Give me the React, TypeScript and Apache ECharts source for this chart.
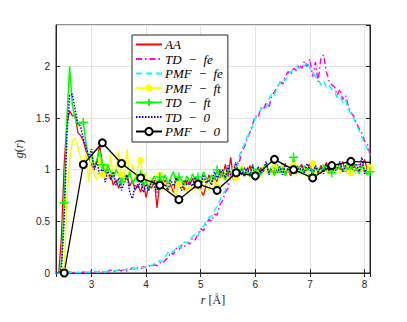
import React, { useEffect, useRef } from "react";
import * as echarts from "echarts";

// r grid of the sampled g(r) curves (Å)
const R_START = 2.35;
const R_STEP = 0.05;
const R_COUNT = 116;

const AA = [
  0, 0, 0.35, 1.05, 1.45, 1.57, 1.52, 1.53, 1.36, 1.33,
  1.28, 1.18, 1.12, 1.05, 1.0, 1.08, 1.24, 1.05, 1.0, 0.92,
  0.95, 0.85, 0.9, 0.82, 0.92, 0.88, 0.95, 0.84, 0.9, 0.8,
  0.86, 0.78, 0.88, 0.73, 0.85, 0.82, 0.9, 0.63, 0.88, 0.82,
  0.9, 0.8, 0.86, 0.78, 0.92, 0.84, 0.88, 0.8, 0.9, 0.85,
  0.92, 0.82, 0.88, 0.8, 0.75, 0.85, 0.95, 0.88, 0.93, 0.88,
  1.0, 0.92, 1.05, 0.93, 1.12, 0.9, 0.97, 1.0, 0.95, 1.02,
  0.96, 1.04, 0.95, 1.0, 0.93, 1.02, 0.98, 1.05, 0.97, 1.01,
  0.95, 1.03, 0.98, 1.06, 0.97, 1.0, 0.94, 1.04, 0.99, 1.02,
  1.05, 0.97, 1.0, 1.06, 0.98, 1.02, 0.96, 1.04, 1.0, 1.07,
  0.98, 1.03, 0.99, 1.05, 1.0, 1.08, 0.98, 1.04, 1.0, 1.06,
  0.99, 1.05, 1.02, 1.1, 1.0, 1.05,
];

const TD_FE = [
  0, 0, 0, 0.01, 0.0, 0.01, 0.0, 0.01, 0.0, 0.0,
  0.01, 0.0, 0.01, 0.02, 0.01, 0.0, 0.02, 0.01, 0.02, 0.01,
  0.03, 0.01, 0.02, 0.03, 0.02, 0.04, 0.02, 0.03, 0.05, 0.03,
  0.05, 0.04, 0.06, 0.05, 0.07, 0.06, 0.08, 0.07, 0.1, 0.09,
  0.12, 0.15, 0.2, 0.18, 0.24, 0.22, 0.27, 0.25, 0.3, 0.28,
  0.34, 0.32, 0.38, 0.43, 0.41, 0.47, 0.52, 0.5, 0.57, 0.56,
  0.66, 0.7, 0.78, 0.82, 0.95, 1.0, 1.08, 1.05, 1.18, 1.22,
  1.3, 1.36, 1.44, 1.52, 1.5, 1.6, 1.58, 1.65, 1.6, 1.72,
  1.75, 1.8, 1.85, 1.83, 1.9, 1.95, 1.92, 1.98, 1.96, 2.02,
  1.98, 2.05, 2.0, 2.07, 1.9, 2.04, 1.85, 2.08, 2.11, 1.95,
  1.86, 1.82, 1.8, 1.72, 1.78, 1.68, 1.72, 1.62, 1.55, 1.52,
  1.45, 1.4, 1.35, 1.28, 1.25, 1.15,
];

const PMF_FE = [
  0, 0, 0, 0.0, 0.01, 0.0, 0.01, 0.0, 0.01, 0.0,
  0.0, 0.01, 0.01, 0.0, 0.02, 0.01, 0.01, 0.02, 0.01, 0.02,
  0.02, 0.02, 0.03, 0.02, 0.03, 0.03, 0.04, 0.03, 0.04, 0.05,
  0.04, 0.06, 0.05, 0.06, 0.08, 0.07, 0.09, 0.1, 0.12, 0.11,
  0.15, 0.2, 0.22, 0.2, 0.25, 0.26, 0.24, 0.3, 0.29, 0.33,
  0.35, 0.38, 0.36, 0.42, 0.45, 0.5, 0.54, 0.55, 0.6, 0.65,
  0.7, 0.76, 0.8, 0.9, 0.96, 1.02, 1.05, 1.12, 1.2, 1.24,
  1.32, 1.35, 1.42, 1.5, 1.55, 1.58, 1.62, 1.6, 1.68, 1.74,
  1.72, 1.8, 1.84, 1.88, 1.86, 1.92, 1.95, 1.97, 2.0, 1.98,
  2.02, 2.0, 2.04, 1.98, 1.95, 1.9, 1.88, 1.82, 1.86, 1.8,
  1.82, 1.78, 1.75, 1.7, 1.72, 1.65, 1.68, 1.58, 1.55, 1.5,
  1.44, 1.38, 1.32, 1.26, 1.2, 1.14,
];

const PMF_FT = [
  0, 0, 0, 0.02, 0.7, 1.1, 1.28, 1.31, 1.22, 1.12,
  1.05, 1.15, 0.88, 1.2, 0.95, 0.9, 1.15, 0.95, 1.05, 0.92,
  1.15, 0.9, 1.0, 1.18, 0.95, 0.88, 1.2, 0.92, 1.05, 0.9,
  1.02, 1.09, 0.88, 0.96, 0.85, 0.93, 0.82, 0.9, 0.95, 0.8,
  0.88, 0.78, 0.92, 0.82, 0.75, 0.86, 0.8, 0.9, 0.78, 0.85,
  0.8, 0.9, 0.84, 0.78, 0.92, 0.86, 0.8, 0.95, 0.88, 0.84,
  0.95, 0.9, 1.0, 0.88, 0.96, 1.02, 0.92, 0.98, 1.04, 0.95,
  0.99, 0.93, 1.03, 0.96, 1.0, 0.92, 1.05, 0.97, 1.01, 0.95,
  1.02, 0.96, 1.0, 1.05, 0.94, 1.0, 0.97, 1.04, 0.95, 1.01,
  0.96, 1.03, 0.92, 1.0, 1.06, 0.95, 1.02, 0.97, 1.04, 1.0,
  0.95, 1.03, 0.98, 1.06, 0.96, 1.01, 0.99, 1.05, 0.97, 1.02,
  1.0, 1.04, 0.98, 1.03, 0.97, 1.02,
];

const TD_FT = [
  0, 0, 0.1, 0.68, 1.5, 2.0, 1.62, 1.5, 1.43, 1.45,
  1.46, 1.25, 1.1, 1.15, 1.02, 1.1, 1.19, 1.05, 0.95, 1.05,
  0.98, 0.92, 1.0, 0.95, 0.88, 0.96, 0.9, 0.98, 0.86, 0.92,
  0.88, 0.95, 0.84, 0.9, 0.8, 0.88, 0.94, 0.86, 0.93, 0.88,
  0.95, 0.86, 0.92, 0.98, 0.88, 0.93, 0.9, 0.85, 0.94, 0.88,
  0.96, 0.9, 0.93, 0.86, 0.98, 0.92, 0.88, 0.95, 0.9, 1.0,
  0.92, 0.98, 0.9, 1.02, 0.95, 0.92, 1.0, 0.94, 1.02, 0.96,
  1.0, 0.93, 1.04, 0.97, 1.02, 0.95, 1.0, 1.06, 0.97, 1.03,
  0.98, 1.05, 0.97, 1.02, 0.94, 1.01, 1.0, 1.12, 0.96, 1.03,
  0.97, 1.04, 0.99, 1.02, 0.95, 1.03, 1.0, 0.96, 1.05, 0.99,
  1.03, 0.97, 1.02, 1.0, 1.06, 0.98, 1.03, 1.0, 1.05, 0.97,
  1.02, 0.96, 1.04, 1.0, 0.95, 0.98,
];

const TD_0 = [
  0, 0, 0.05, 0.5, 1.35, 1.72, 1.73, 1.58, 1.45, 1.42,
  1.3, 1.22, 1.12, 1.2, 1.0, 1.08, 0.95, 1.02, 0.88, 1.0,
  0.9, 0.98, 0.85, 0.92, 0.8, 0.88, 0.95, 0.78, 0.72, 0.85,
  0.82, 0.9, 0.78, 0.86, 0.8, 0.9, 0.84, 0.78, 0.88, 0.82,
  0.86, 0.8, 0.9, 0.84, 0.92, 0.86, 0.8, 0.9, 0.85, 0.88,
  0.84, 0.93, 0.88, 0.82, 0.95, 0.87, 0.9, 0.85, 0.98, 0.92,
  0.96, 1.0, 0.92, 1.04, 0.95, 0.98, 1.06, 0.94, 1.0, 0.93,
  1.02, 0.95, 1.05, 0.9, 1.03, 0.97, 1.0, 1.08, 0.95, 1.02,
  1.07, 0.97, 1.03, 0.95, 1.06, 0.99, 1.02, 0.96, 1.05, 0.98,
  1.03, 0.97, 1.06, 1.0, 0.95, 1.04, 0.98, 1.02, 0.96, 1.05,
  0.99, 1.04, 0.97, 1.02, 1.08, 0.98, 1.03, 1.1, 0.97, 1.02,
  1.06, 0.98, 1.12, 0.96, 1.03, 1.0,
];

// PMF-0 is sampled on a coarser grid
const PMF_0_R = [2.5, 2.85, 3.2, 3.55, 3.9, 4.25, 4.6, 4.95, 5.3, 5.65, 6.0, 6.35, 6.7, 7.05, 7.4, 7.75, 8.1];
const PMF_0 = [0, 1.05, 1.26, 1.06, 0.92, 0.85, 0.71, 0.86, 0.8, 0.97, 0.94, 1.1, 1.0, 0.92, 1.04, 1.08, 1.07];

const SERIES_NAMES = ["AA", "TD\u2002−\u2002fe", "PMF\u2002−\u2002fe", "PMF\u2002−\u2002ft", "TD\u2002−\u2002ft", "TD\u2002−\u20020", "PMF\u2002−\u20020"];

const X_MIN = 2.35;
const X_MAX = 8.1;
const Y_MIN = 0;
const Y_MAX = 2.4;

const MARK_EVERY = 7;
const MARK_OFFSET = 3;

const PLUS = "path://M5,0 L5,10 M0,5 L10,5";

export default function App() {
  const ref = useRef<HTMLDivElement>(null);

  useEffect(() => {
    if (!ref.current) return;
    const chart = echarts.init(ref.current, null, { renderer: "svg" });
    const rs = Array.from({ length: R_COUNT }, (_, i) => +(R_START + i * R_STEP).toFixed(2));
    const pairs = (ys: number[]) => ys.map((y, i) => [rs[i], y]);
    const marked = (ys: number[]) =>
      ys.map((y, i) =>
        (i - MARK_OFFSET) % MARK_EVERY === 0 && i >= MARK_OFFSET
          ? { value: [rs[i], y] }
          : { value: [rs[i], y], symbol: "none" }
      );

    const axisColor = "#262626";
    const tickFont = { fontFamily: "Liberation Sans", fontSize: 10, color: axisColor };
    const serif = "Liberation Serif";
    const noMarker = [true, true, true, false, false, true, false];

    chart.setOption({
      animation: false,
      backgroundColor: "#ffffff",
      grid: {
        left: 56,
        right: 37,
        top: 25,
        bottom: 49,
        show: true,
        borderColor: axisColor,
        borderWidth: 1,
        backgroundColor: "#ffffff",
      },
      legend: {
        orient: "vertical",
        left: 132,
        top: 35,
        backgroundColor: "#ffffff",
        borderColor: axisColor,
        borderWidth: 1,
        borderRadius: 0,
        padding: [3, 5, 4, 3],
        itemWidth: 26,
        itemHeight: 9,
        itemGap: 1.5,
        textStyle: {
          fontFamily: serif,
          fontStyle: "italic",
          fontSize: 13,
          color: "#000",
          padding: [0, 0, 0, -2],
        },
        data: SERIES_NAMES.map((name, i) =>
          noMarker[i] ? { name, itemStyle: { opacity: 0 } } : { name }
        ),
      },
      xAxis: [
        {
          type: "value",
          min: X_MIN,
          max: X_MAX,
          minInterval: 1,
          maxInterval: 1,
          axisLine: { show: true, lineStyle: { color: axisColor, width: 1 } },
          axisTick: { show: true, inside: true, length: 4, lineStyle: { color: axisColor } },
          axisLabel: { ...tickFont, margin: 6, showMinLabel: false, showMaxLabel: false },
          splitLine: { show: true, lineStyle: { color: "#e3e3e3", width: 1 } },
          name: "{i|r} [Å]",
          nameLocation: "middle",
          nameGap: 19,
          nameTextStyle: {
            fontFamily: serif,
            fontSize: 12,
            color: axisColor,
            rich: { i: { fontFamily: serif, fontStyle: "italic", fontSize: 12, color: axisColor } },
          },
        },
        {
          type: "value",
          position: "top",
          min: X_MIN,
          max: X_MAX,
          minInterval: 1,
          maxInterval: 1,
          axisLine: { show: true, lineStyle: { color: axisColor, width: 1 } },
          axisTick: { show: true, inside: true, length: 4, lineStyle: { color: axisColor } },
          axisLabel: { show: false },
          splitLine: { show: false },
        },
      ],
      yAxis: [
        {
          type: "value",
          min: Y_MIN,
          max: Y_MAX,
          interval: 0.5,
          axisLine: { show: true, lineStyle: { color: axisColor, width: 1 } },
          axisTick: { show: true, inside: true, length: 4, lineStyle: { color: axisColor } },
          axisLabel: { ...tickFont, margin: 6, showMaxLabel: false },
          splitLine: { show: true, lineStyle: { color: "#e3e3e3", width: 1 } },
          name: "{i|g}({i|r})",
          nameLocation: "middle",
          nameGap: 18,
          nameRotate: 90,
          nameTextStyle: {
            fontFamily: serif,
            fontSize: 12,
            color: axisColor,
            rich: { i: { fontFamily: serif, fontStyle: "italic", fontSize: 12, color: axisColor } },
          },
        },
        {
          type: "value",
          position: "right",
          min: Y_MIN,
          max: Y_MAX,
          interval: 0.5,
          axisLine: { show: true, lineStyle: { color: axisColor, width: 1 } },
          axisTick: { show: true, inside: true, length: 4, lineStyle: { color: axisColor } },
          axisLabel: { show: false },
          splitLine: { show: false },
        },
      ],
      series: [
        {
          name: SERIES_NAMES[0],
          type: "line",
          data: pairs(AA),
          symbol: "none",
          lineStyle: { color: "#ff0000", width: 1.3 },
          itemStyle: { color: "#ff0000" },
        },
        {
          name: SERIES_NAMES[1],
          type: "line",
          data: pairs(TD_FE),
          symbol: "none",
          lineStyle: { color: "#ff00ff", width: 1.5, type: [6, 3, 1.5, 3] },
          itemStyle: { color: "#ff00ff" },
        },
        {
          name: SERIES_NAMES[2],
          type: "line",
          data: pairs(PMF_FE),
          symbol: "none",
          lineStyle: { color: "#00ffff", width: 1.5, type: [6, 4] },
          itemStyle: { color: "#00ffff" },
        },
        {
          name: SERIES_NAMES[3],
          type: "line",
          data: marked(PMF_FT),
          symbol: "circle",
          symbolSize: 6,
          lineStyle: { color: "#ffff00", width: 1.5 },
          itemStyle: { color: "#ffff00", borderColor: "#ffff00" },
        },
        {
          name: SERIES_NAMES[4],
          type: "line",
          data: marked(TD_FT),
          symbol: PLUS,
          symbolSize: 9,
          lineStyle: { color: "#00ff00", width: 1.5 },
          itemStyle: { color: "#00ff00", borderColor: "#00ff00", borderWidth: 1.5 },
        },
        {
          name: SERIES_NAMES[5],
          type: "line",
          data: pairs(TD_0),
          symbol: "none",
          lineStyle: { color: "#0000ff", width: 1.5, type: [1.5, 1.5] },
          itemStyle: { color: "#0000ff" },
        },
        {
          name: SERIES_NAMES[6],
          type: "line",
          data: PMF_0.map((y, i) =>
            i === PMF_0.length - 1 ? { value: [PMF_0_R[i], y], symbol: "none" } : { value: [PMF_0_R[i], y] }
          ),
          symbol: "emptyCircle",
          symbolSize: 7,
          lineStyle: { color: "#000000", width: 1.3 },
          itemStyle: { color: "#000000", borderColor: "#000000", borderWidth: 1.5 },
        },
      ],
    });
    return () => chart.dispose();
  }, []);

  return (
    <div
      ref={ref}
      style={{ position: "fixed", left: 0, top: 0, width: 407, height: 322, background: "#fff" }}
    />
  );
}
